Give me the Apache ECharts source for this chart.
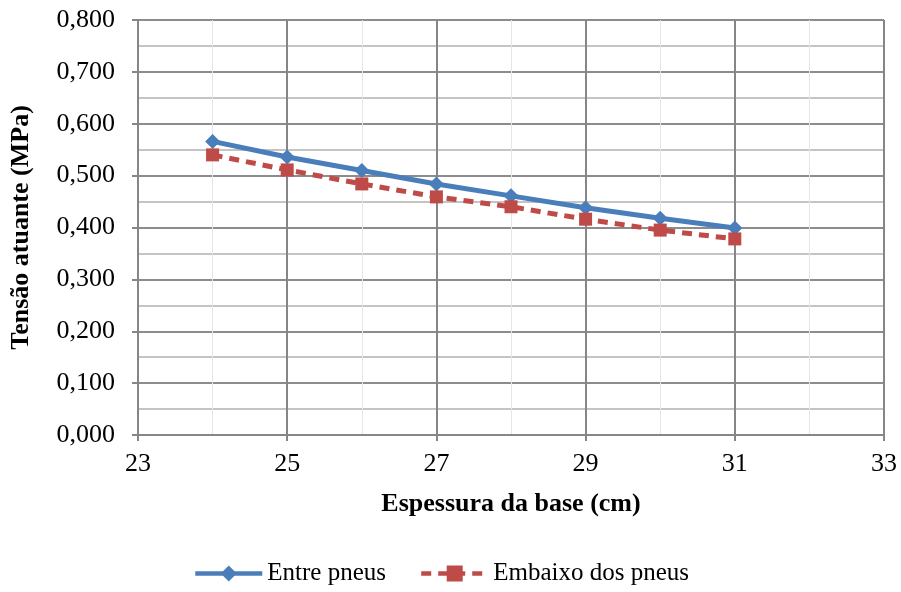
<!DOCTYPE html>
<html><head><meta charset="utf-8">
<script src="https://cdn.jsdelivr.net/npm/echarts@6/dist/echarts.min.js"></script>
<style>html,body{margin:0;padding:0;background:#fff}#c{width:901px;height:592px}</style>
</head><body><div id="c"></div>
<script>
const thickness = [24, 25, 26, 27, 28, 29, 30, 31];
const entrePneus = [0.566, 0.536, 0.510, 0.484, 0.461, 0.438, 0.418, 0.399];
const embaixoPneus = [0.540, 0.511, 0.484, 0.459, 0.440, 0.416, 0.395, 0.378];
const seriesNames = ['Entre pneus', 'Embaixo dos pneus'];
const xTitle = 'Espessura da base (cm)';
const yTitle = 'Tensão atuante (MPa)';

const font = '"Liberation Serif", "Times New Roman", serif';
const chart = echarts.init(document.getElementById('c'));
chart.setOption({
  animation: false,
  textStyle: { fontFamily: font },
  grid: { left: 138, right: 17, top: 20, bottom: 157 },
  legend: {
    top: 556, left: 188, itemWidth: 67, itemHeight: 20, itemGap: 33,
    textStyle: { fontFamily: font, fontSize: 25, color: '#000' },
    lineStyle: { width: 4.5 },
    data: seriesNames
  },
  xAxis: {
    type: 'value', min: 23, max: 33, interval: 2,
    name: xTitle, nameLocation: 'middle', nameGap: 56,
    nameTextStyle: { fontFamily: font, fontSize: 26, fontWeight: 'bold', color: '#000' },
    axisLine: { lineStyle: { color: '#868686', width: 2 } },
    axisTick: { show: true, length: 6, lineStyle: { color: '#868686', width: 2 } },
    axisLabel: { fontFamily: font, fontSize: 26, color: '#000', margin: 16,
      formatter: v => String(v) },
    splitLine: { show: true, lineStyle: { color: '#868686', width: 2 } },
    minorTick: { show: false, splitNumber: 2 },
    minorSplitLine: { show: true, lineStyle: { color: '#e6e6e6', width: 1 } }
  },
  yAxis: {
    type: 'value', min: 0, max: 0.8, interval: 0.1,
    name: yTitle, nameLocation: 'middle', nameGap: 104, nameRotate: 90,
    nameTextStyle: { fontFamily: font, fontSize: 26, fontWeight: 'bold', color: '#000' },
    axisLine: { show: true, lineStyle: { color: '#868686', width: 2 } },
    axisTick: { show: true, length: 6, lineStyle: { color: '#868686', width: 2 } },
    axisLabel: { fontFamily: font, fontSize: 26, color: '#000', margin: 23,
      formatter: v => v.toFixed(3).replace('.', ',') },
    splitLine: { show: true, lineStyle: { color: '#8c8c8c', width: 2 } },
    minorTick: { show: false, splitNumber: 2 },
    minorSplitLine: { show: true, lineStyle: { color: '#c4c4c4', width: 2 } }
  },
  series: [
    {
      name: seriesNames[0], type: 'line',
      data: thickness.map((x, i) => [x, entrePneus[i]]),
      symbol: 'diamond', symbolSize: 15,
      itemStyle: { color: '#4a7ebb' },
      lineStyle: { color: '#4a7ebb', width: 5 }
    },
    {
      name: seriesNames[1], type: 'line',
      data: thickness.map((x, i) => [x, embaixoPneus[i]]),
      symbol: 'rect', symbolSize: 13,
      itemStyle: { color: '#be4b48' },
      lineStyle: { color: '#be4b48', width: 5, type: [10, 7] }
    }
  ]
});
</script></body></html>
